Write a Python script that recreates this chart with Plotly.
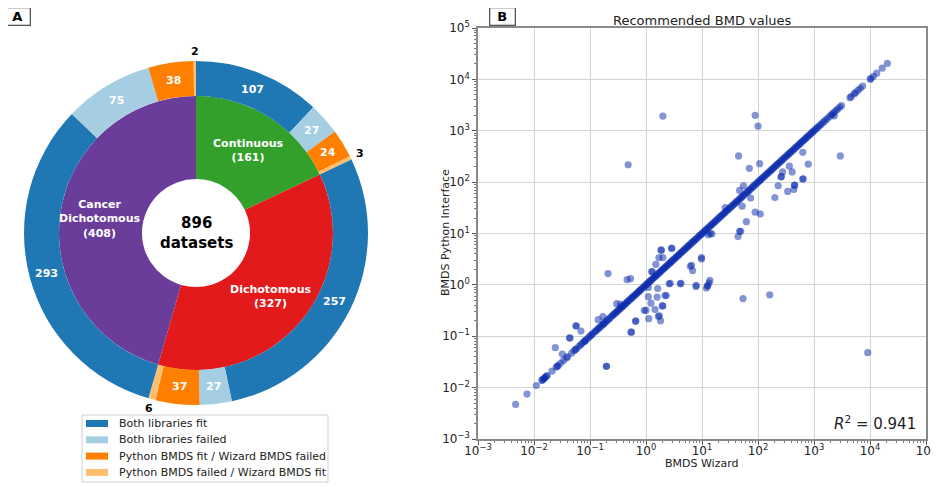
import math
import plotly.graph_objects as go

W, H = 939, 487
OFF = 8  # default page margin of the html body that hosts the figure

# ---------------- Panel A data ----------------
groups = ["Continuous", "Dichotomous", "Cancer<br>Dichotomous"]
group_counts = [161, 327, 408]
group_colors = ["#33a02c", "#e31a1c", "#6a3d9a"]
outcomes = ["Both libraries fit", "Both libraries failed",
            "Python BMDS fit / Wizard BMDS failed",
            "Python BMDS failed / Wizard BMDS fit"]
outcome_colors = ["#1f78b4", "#a6cee3", "#ff7f00", "#fdbf6f"]
continuous_counts = [107, 27, 24, 3]
dichotomous_counts = [257, 27, 37, 6]
cancer_counts = [293, 75, 38, 2]
total_label = "896<br>datasets"

# ---------------- Panel B data ----------------
# datasets where both interfaces gave the same recommended BMD
agree_bmd = [0.0047, 0.0075, 0.011, 0.0138, 0.0142, 0.0147, 0.0152, 0.0158, 0.0166, 0.0172,
             0.021, 0.025, 0.026, 0.027, 0.030, 0.034, 0.038, 0.040, 0.047, 0.052, 0.055,
             0.057, 0.063, 0.068, 0.072, 0.078, 0.080, 0.083, 0.088, 0.095, 0.10, 0.105,
             0.11, 0.118, 0.125, 0.13, 0.138, 0.145, 0.15, 0.16, 0.168, 0.175, 0.18, 0.19,
             0.20, 0.21, 0.22, 0.235, 0.25, 0.26, 0.27, 0.285, 0.30, 0.31, 0.325, 0.34,
             0.355, 0.37, 0.385, 0.40, 0.42, 0.44, 0.46, 0.48, 0.50, 0.52, 0.55, 0.57,
             0.60, 0.62, 0.65, 0.68, 0.71, 0.74, 0.77, 0.80, 0.84, 0.88, 0.92, 0.96, 1.0,
             1.04, 1.09, 1.13, 1.18, 1.23, 1.28, 1.34, 1.4, 1.46, 1.52, 1.59, 1.66, 1.73,
             1.8, 1.88, 1.96, 2.05, 2.14, 2.23, 2.33, 2.43, 2.54, 2.65, 2.77, 2.89, 3.0,
             3.15, 3.3, 3.45, 3.6, 3.75, 3.9, 4.1, 4.3, 4.5, 4.7, 4.9, 5.1, 5.35, 5.6,
             5.85, 6.1, 6.4, 6.7, 7.0, 7.3, 7.6, 8.0, 8.4, 8.8, 9.2, 9.6, 10, 10.5, 11,
             11.5, 12, 12.6, 13.2, 13.8, 14.5, 15.2, 16, 16.8, 17.6, 18.5, 19.4, 20.3,
             21.3, 22.3, 23.4, 24.5, 25.7, 27, 28.3, 29.7, 31, 32.6, 34.2, 35.8, 37.5,
             39.3, 41.2, 43.2, 45.3, 47.5, 49.8, 52, 54.7, 57.3, 60, 63, 66, 69, 72.5, 76,
             79.6, 83.5, 87.5, 91.7, 96, 100.7, 105.5, 110.6, 116, 121.5, 127, 133.5, 140,
             146.6, 153.7, 161, 169, 177, 185.5, 194.5, 204, 214, 224, 235, 246, 258, 270,
             283, 297, 311, 326, 342, 358, 375, 393, 412, 432, 453, 475, 498, 522, 547,
             573, 601, 630, 660, 692, 725, 760, 797, 835, 875, 917, 961, 1010, 1060, 1120,
             1180, 1250, 1330, 1420, 1520, 1630, 1750, 1900, 2050, 2150, 2300, 2500, 2650,
             2900, 3100, 4400, 4600, 5200, 5500, 6100, 6700, 7400, 10100, 10400, 11500,
             13200, 16500, 20400]

# datasets where the two interfaces disagree
wizard_bmd = [2.0, 0.48, 89, 100, 45, 70, 107, 2950, 630, 790, 363, 275, 407, 257, 262,
              448, 452, 630, 640, 229, 339, 437, 200, 74, 55, 47, 89, 110, 62, 49, 44, 52,
              26, 14, 13, 9.8, 6.5, 6.8, 4.2, 7.9, 12.0, 12.5, 12.7, 13.4, 13.8, 54, 162,
              2.7, 1.86, 1.88, 2.9, 2.85, 1.7, 2.0, 1.5, 1.3, 1.1, 2.3, 1.1, 1.23, 2.0, 1.0,
              0.93, 1.45, 1.12, 1.74, 1.66, 1.82, 0.66, 0.55, 0.21, 0.46, 0.53, 0.30, 0.35,
              0.024, 0.032, 0.043, 0.044, 0.056, 0.057, 0.069, 0.14, 0.17, 0.195, 0.198,
              0.54, 0.65, 1.58, 1.95, 2.19, 1.62, 1.26, 2.6, 4.1, 6.2, 7.8, 9.8, 15, 47,
              9100, 2300]
python_bmd = [1930, 218, 2000, 1230, 324, 186, 229, 324, 380, 224, 204, 158, 158, 126, 128,
              87, 88, 115, 116, 85, 66, 72, 50, 49, 85, 69, 26, 24, 17, 11, 8.7, 34,
              32, 10, 9.5, 3.4, 2.4, 1.9, 1.07, 0.98, 0.87, 0.95, 0.97, 1.1, 1.23, 0.54, 0.64,
              1.07, 4.8, 4.7, 5.2, 5.1, 3.4, 3.4, 2.5, 1.8, 0.89, 0.62, 0.59, 0.44, 0.39, 0.32,
              0.32, 0.33, 0.22, 0.25, 0.245, 0.20, 0.20, 0.12, 1.66, 1.26, 1.32, 0.43, 0.42,
              0.060, 0.045, 0.093, 0.092, 0.16, 0.158, 0.126, 0.21, 0.24, 0.026, 0.026,
              0.12, 0.195, 0.58, 0.39, 0.62, 0.85, 1.82, 1.05, 1.05, 2.3, 0.93, 3.2, 9.8, 11,
              0.048, 1950]

x_tick_vals = [1e-3, 1e-2, 1e-1, 1e0, 1e1, 1e2, 1e3, 1e4, 1e5]
tick_text = ["10<sup>\u22123</sup>", "10<sup>\u22122</sup>", "10<sup>\u22121</sup>",
             "10<sup>0</sup>", "10<sup>1</sup>", "10<sup>2</sup>", "10<sup>3</sup>",
             "10<sup>4</sup>", "10<sup>5</sup>"]
r2_text = "<i>R</i><sup>2</sup> = 0.941"

# ---------------- geometry (screen pixels) ----------------
CX, CY = 196, 233
R_OUT, R_MID, R_HOLE = 172, 137, 54


def px(x):
    return (x - OFF) / W


def py(y):
    return 1 - (y - OFF) / H


def dom(r):
    return dict(x=[px(CX - r), px(CX + r)], y=[py(CY + r), py(CY - r)])


FONT = "DejaVu Sans"
fig = go.Figure()

outer_vals = continuous_counts + dichotomous_counts + cancer_counts
outer_cols = outcome_colors * 3
outer_labels = [f"{g.replace('<br>', ' ')} - {o}" for g in groups for o in outcomes]

fig.add_trace(go.Pie(values=group_counts, labels=[g.replace("<br>", " ") for g in groups],
                     marker=dict(colors=group_colors, line=dict(width=0)),
                     hole=R_HOLE / R_MID, sort=False, direction="clockwise", rotation=0,
                     textinfo="none", domain=dom(R_MID), showlegend=False))
fig.add_trace(go.Pie(values=outer_vals, labels=outer_labels,
                     marker=dict(colors=outer_cols, line=dict(width=0)),
                     hole=R_MID / R_OUT, sort=False, direction="clockwise", rotation=0,
                     textinfo="none", domain=dom(R_OUT), showlegend=False))

annotations = []
shapes = []
total = sum(group_counts)


def note(x, y, text, size=11, color="#222222", **kw):
    d = dict(x=px(x), y=py(y), xref="paper", yref="paper", showarrow=False, text=text,
             xanchor="center", yanchor="middle",
             font=dict(family=FONT, size=size, color=color))
    d.update(kw)
    annotations.append(d)


def polar(frac, r):
    th = 2 * math.pi * frac
    return CX + r * math.sin(th), CY - r * math.cos(th)


cum = 0
for g, c in zip(groups, group_counts):
    x, y = polar((cum + c / 2) / total, (R_HOLE + R_MID) / 2 + 2)
    note(x, y, f"<b>{g}<br>({c})</b>", color="white")
    cum += c

cum = 0
for v in outer_vals:
    if v >= 10:
        x, y = polar((cum + v / 2) / total, (R_MID + R_OUT) / 2)
        col = "white"
    else:
        x, y = polar((cum + v / 2) / total, R_OUT + 10)
        col = "black"
    note(x, y, f"<b>{v}</b>", color=col)
    cum += v

note(CX, CY, f"<b>{total_label}</b>", size=15, color="black")

# legend for the outcome colours (drawn as a matplotlib-style box)
LEG_X0, LEG_Y0, LEG_X1, LEG_Y1 = 82, 415, 328, 482
shapes.append(dict(type="rect", xref="paper", yref="paper", x0=px(LEG_X0), x1=px(LEG_X1),
                   y0=py(LEG_Y1), y1=py(LEG_Y0), line=dict(color="#d0d0d0", width=1),
                   fillcolor="white", layer="above"))
for i, (o, c) in enumerate(zip(outcomes, outcome_colors)):
    ry = 423.5 + i * 16.3
    shapes.append(dict(type="rect", xref="paper", yref="paper", x0=px(86), x1=px(108),
                       y0=py(ry + 3.5), y1=py(ry - 3.5), line=dict(width=0), fillcolor=c,
                       layer="above"))
    note(117, ry, o, xanchor="left")

# panel letters
for letter, lx in (("A", 17), ("B", 502)):
    note(lx, 17, f"<b>{letter}</b>", size=13, color="black", width=22, height=14,
         bordercolor="#555555", borderwidth=1.3, borderpad=1)

# scatter title, R2, axis labels
note(702, 20, "Recommended BMD values", size=13)
note(918, 423, r2_text, size=15, xanchor="right")
note(702, 463, "BMDS Wizard")
note(445, 233, "BMDS Python Interface", textangle=-90)

MARK = dict(size=7.2, color="rgb(8,42,172)", opacity=0.5, line=dict(width=0))
fig.add_trace(go.Scatter(x=agree_bmd, y=agree_bmd, mode="markers", marker=MARK,
                         showlegend=False, name="agree"))
fig.add_trace(go.Scatter(x=wizard_bmd, y=python_bmd, mode="markers", marker=MARK,
                         showlegend=False, name="disagree"))

minor_vals = [m * 10 ** e for e in range(-3, 5) for m in range(2, 10)]
axis_common = dict(type="log", range=[-3, 5], tickmode="array", tickvals=x_tick_vals,
                   ticktext=tick_text, showline=True, mirror=True, linecolor="#8a8a8a",
                   linewidth=1.5, showgrid=True, gridcolor="#d4d4d4", gridwidth=1,
                   ticks="outside", ticklen=4, tickcolor="#555555", zeroline=False,
                   automargin=False,
                   tickfont=dict(family=FONT, size=12, color="#222222"),
                   minor=dict(tickmode="array", tickvals=minor_vals, ticks="outside",
                              ticklen=2, tickcolor="#777777", showgrid=False))

fig.update_layout(
    width=W, height=H, margin=dict(l=0, r=0, t=0, b=0, autoexpand=False),
    paper_bgcolor="white", plot_bgcolor="white",
    xaxis=dict(domain=[px(478), px(926)], anchor="y", ticklabelstandoff=-4, **axis_common),
    yaxis=dict(domain=[py(439), py(28)], anchor="x", **axis_common),
    annotations=annotations, shapes=shapes, showlegend=False,
    font=dict(family=FONT),
)

fig.write_html("out.html")
